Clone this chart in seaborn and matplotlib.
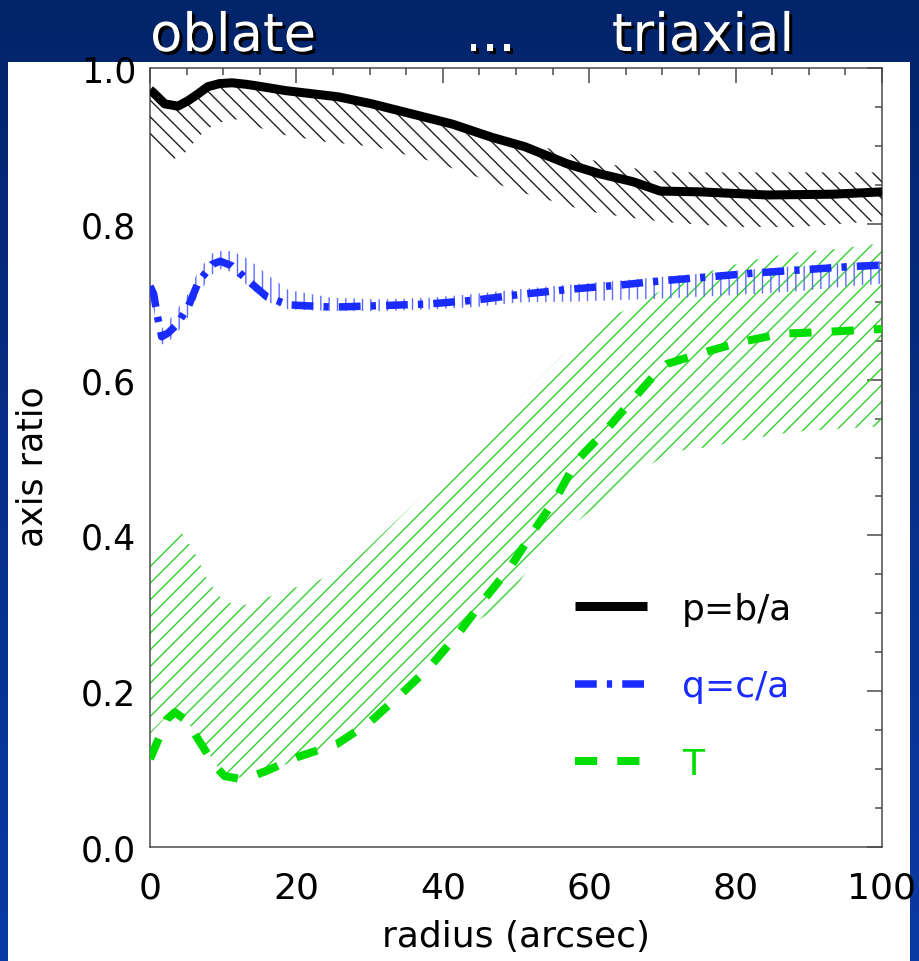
import matplotlib
matplotlib.use("Agg")
import numpy as np
import pandas as pd
import seaborn as sns
import matplotlib.pyplot as plt
import matplotlib.patheffects as pe
from matplotlib.lines import Line2D
from matplotlib.patches import Rectangle
from matplotlib.ticker import MultipleLocator, FixedLocator, FixedFormatter

# ---------------- data ----------------
title_words = ["oblate", "...", "triaxial"]
series_labels = ["p=b/a", "q=c/a", "T"]
x_ticks = [0, 20, 40, 60, 80, 100]
x_tick_labels = ["0", "20", "40", "60", "80", "100"]
y_ticks = [0.0, 0.2, 0.4, 0.6, 0.8, 1.0]
y_tick_labels = ["0.0", "0.2", "0.4", "0.6", "0.8", "1.0"]

# p = b/a
x_p = [0, 0.5, 2, 3.8, 5.2, 6.6, 7.9, 9.5, 11.2, 13.2, 15.3, 18.5, 22.1, 25.7, 30.3,
       35.8, 41.3, 46.7, 51.2, 57, 61.5, 66, 69.7, 75.1, 84.3, 93.3, 100]
p = [0.972, 0.968, 0.954, 0.951, 0.958, 0.967, 0.976, 0.980, 0.981, 0.979, 0.976, 0.971,
     0.967, 0.963, 0.954, 0.941, 0.928, 0.911, 0.899, 0.877, 0.864, 0.854, 0.842, 0.841,
     0.837, 0.838, 0.841]

# p uncertainty band
x_pb = [0, 3.1, 4.4, 5.2, 6.8, 7.8, 9.2, 10.2, 11.9, 14.3, 17.3, 19.4, 23, 27.6, 31.1,
        34.4, 39, 44.4, 47.5, 50.1, 55, 59.8, 64.6, 70.6, 79.6, 88.8, 100]
p_lo = [0.905, 0.883, 0.887, 0.896, 0.913, 0.922, 0.928, 0.932, 0.934, 0.926, 0.915, 0.913,
        0.906, 0.902, 0.898, 0.890, 0.879, 0.861, 0.851, 0.842, 0.829, 0.816, 0.809, 0.802,
        0.796, 0.796, 0.804]
p_hi = [0.972, 0.952, 0.953, 0.958, 0.968, 0.975, 0.979, 0.981, 0.981, 0.977, 0.973, 0.970,
        0.966, 0.960, 0.952, 0.945, 0.934, 0.918, 0.909, 0.903, 0.896, 0.883, 0.873, 0.866,
        0.866, 0.866, 0.866]

# q = c/a
x_q = [0, 0.5, 1, 1.6, 2.5, 3.7, 5.2, 6.6, 8.5, 9.6, 11.2, 13.4, 16, 18.9, 24.9, 31.7,
       38, 44.4, 50.3, 57.4, 63.8, 70.1, 76.5, 82.9, 89.2, 95.6, 100]
q = [0.720, 0.710, 0.682, 0.655, 0.660, 0.671, 0.693, 0.725, 0.748, 0.752, 0.746, 0.727,
     0.706, 0.696, 0.693, 0.695, 0.697, 0.702, 0.709, 0.716, 0.721, 0.727, 0.732, 0.737,
     0.741, 0.745, 0.747]
q_lo = [0.695, 0.690, 0.665, 0.645, 0.648, 0.660, 0.680, 0.710, 0.735, 0.742, 0.738, 0.720,
        0.700, 0.690, 0.688, 0.688, 0.690, 0.693, 0.699, 0.700, 0.702, 0.704, 0.707, 0.710,
        0.714, 0.720, 0.723]
q_hi = [0.730, 0.720, 0.690, 0.665, 0.675, 0.690, 0.710, 0.740, 0.762, 0.765, 0.765, 0.755,
        0.735, 0.715, 0.705, 0.703, 0.705, 0.710, 0.716, 0.722, 0.727, 0.732, 0.737, 0.742,
        0.746, 0.750, 0.752]

# T (triaxiality)
x_t = [0, 1, 2.3, 3.4, 5, 6.8, 8.9, 10.2, 12, 14, 16, 20, 25.5, 30, 34.6, 38.3, 42.3,
       45.5, 49.2, 52.3, 55.6, 58.3, 62.2, 66, 69.3, 70.6, 75, 80.6, 86.3, 92, 97.7, 100]
t = [0.113, 0.135, 0.164, 0.173, 0.162, 0.135, 0.104, 0.091, 0.088, 0.091, 0.098, 0.115,
     0.132, 0.160, 0.199, 0.232, 0.276, 0.316, 0.359, 0.404, 0.450, 0.496, 0.534, 0.575,
     0.610, 0.620, 0.633, 0.648, 0.659, 0.661, 0.664, 0.665]

x_tb = [0, 2, 4, 6, 8, 10, 12, 14, 18, 23, 28, 33, 38, 43, 48, 52, 56, 60, 63, 66, 71, 76,
        82, 88, 94, 100]
t_lo = [0.145, 0.165, 0.172, 0.150, 0.120, 0.093, 0.089, 0.091, 0.104, 0.122, 0.148, 0.185,
        0.228, 0.280, 0.310, 0.360, 0.400, 0.430, 0.455, 0.476, 0.507, 0.513, 0.524, 0.533,
        0.537, 0.540]
t_hi = [0.370, 0.395, 0.408, 0.380, 0.340, 0.316, 0.310, 0.312, 0.328, 0.342, 0.368, 0.413,
        0.458, 0.505, 0.552, 0.590, 0.628, 0.663, 0.680, 0.695, 0.720, 0.738, 0.753, 0.763,
        0.768, 0.775]

# ---------------- style ----------------
sns.set_theme(style="white")
plt.rcParams["font.family"] = ["DejaVu Sans"]
plt.rcParams["hatch.linewidth"] = 1.0

C_P = "#000000"
C_Q = "#1a2bff"
C_T = "#00dd00"
C_QH = "#5c6cff"
C_TH = "#30d030"
C_PH = "#222222"
AX_C = "#4a4a4a"

W, H = 920, 962
fig = plt.figure(figsize=(W / 100, H / 100), dpi=100)

# background: navy gradient frame with white panel
bg = fig.add_axes([0, 0, 1, 1], zorder=-10)
top = np.array([0x02, 0x24, 0x6a]) / 255.0
bot = np.array([0x0a, 0x3a, 0xa5]) / 255.0
g = np.linspace(0, 1, 256)[:, None, None]
img = top[None, None, :] + (bot - top)[None, None, :] * g
bg.imshow(img, aspect="auto", extent=[0, 1, 0, 1], origin="upper")
bg.add_patch(Rectangle((8 / W, 0), (910 - 8) / W, (H - 63) / H,
                       facecolor="white", edgecolor="none"))
bg.set_xlim(0, 1)
bg.set_ylim(0, 1)
bg.axis("off")

# main axes
ax = fig.add_axes([150 / W, (H - 848) / H, (882 - 150) / W, (848 - 69) / H])
ax.set_facecolor("white")

# hatched uncertainty bands
ax.fill_between(x_tb, t_lo, t_hi, facecolor="none", edgecolor=C_TH, hatch="//",
                linewidth=0, zorder=1)
ax.fill_between(x_q, q_lo, q_hi, facecolor="none", edgecolor=C_QH, hatch="||",
                linewidth=0, zorder=2)
ax.fill_between(x_pb, p_lo, p_hi, facecolor="none", edgecolor=C_PH, hatch="\\\\",
                linewidth=0, zorder=3)

# curves
lw_p, lw_q, lw_t = 6.5, 5.4, 5.8
dash_q = (0, (2.9, 1.35, 0.7, 1.35))
dash_t = (0, (2.75, 2.5))
sns.lineplot(x=x_p, y=p, ax=ax, color=C_P, linewidth=lw_p, zorder=6,
             solid_capstyle="butt")
sns.lineplot(x=x_q, y=q, ax=ax, color=C_Q, linewidth=lw_q, linestyle=dash_q, zorder=5)
sns.lineplot(x=x_t, y=t, ax=ax, color=C_T, linewidth=lw_t, linestyle=dash_t, zorder=4)

# axes limits and ticks
ax.set_xlim(0, 100)
ax.set_ylim(0, 1.0)
ax.xaxis.set_major_locator(FixedLocator(x_ticks))
ax.xaxis.set_major_formatter(FixedFormatter(x_tick_labels))
ax.xaxis.set_minor_locator(MultipleLocator(5))
ax.yaxis.set_major_locator(FixedLocator(y_ticks))
ax.yaxis.set_major_formatter(FixedFormatter(y_tick_labels))
ax.yaxis.set_minor_locator(MultipleLocator(0.05))
ax.tick_params(which="both", direction="in", top=True, right=True, color=AX_C,
               width=1.1, labelcolor="black")
ax.tick_params(which="major", length=11)
ax.tick_params(which="minor", length=5)
ax.tick_params(axis="y", labelsize=25, pad=10)
ax.tick_params(axis="x", labelsize=26, pad=17)
for s in ax.spines.values():
    s.set_color(AX_C)
    s.set_linewidth(1.1)
    s.set_visible(True)

ax.set_xlabel("radius (arcsec)", fontsize=26, color="black")
ax.set_ylabel("axis ratio", fontsize=25, color="black")
ax.xaxis.set_label_coords(0.5, -0.092)
ax.yaxis.set_label_coords(-0.137, 0.49)

# legend
handles = [
    Line2D([], [], color=C_P, linewidth=lw_p, solid_capstyle="butt"),
    Line2D([], [], color=C_Q, linewidth=lw_q, linestyle=dash_q),
    Line2D([], [], color=C_T, linewidth=lw_t, linestyle=dash_t),
]
leg = ax.legend(handles, series_labels, loc="upper left",
                bbox_to_anchor=((575 - 150) / 732, (848 - 593) / 779),
                frameon=False, fontsize=26, handlelength=2.0, handletextpad=0.97,
                labelspacing=1.2, borderpad=0, borderaxespad=0,
                labelcolor=[C_P, C_Q, C_T])
leg.set_zorder(10)

# header words
shadow = [pe.SimplePatchShadow(offset=(2.2, -2.2), shadow_rgbFace="black", alpha=1.0),
          pe.Normal()]
for word, xc in zip(title_words, [233, 490, 703]):
    fig.text(xc / W, 1 - 52 / H, word, ha="center", va="baseline", fontsize=38,
             color="white", family="DejaVu Sans", path_effects=shadow)

fig.savefig("out.png", dpi=100)
